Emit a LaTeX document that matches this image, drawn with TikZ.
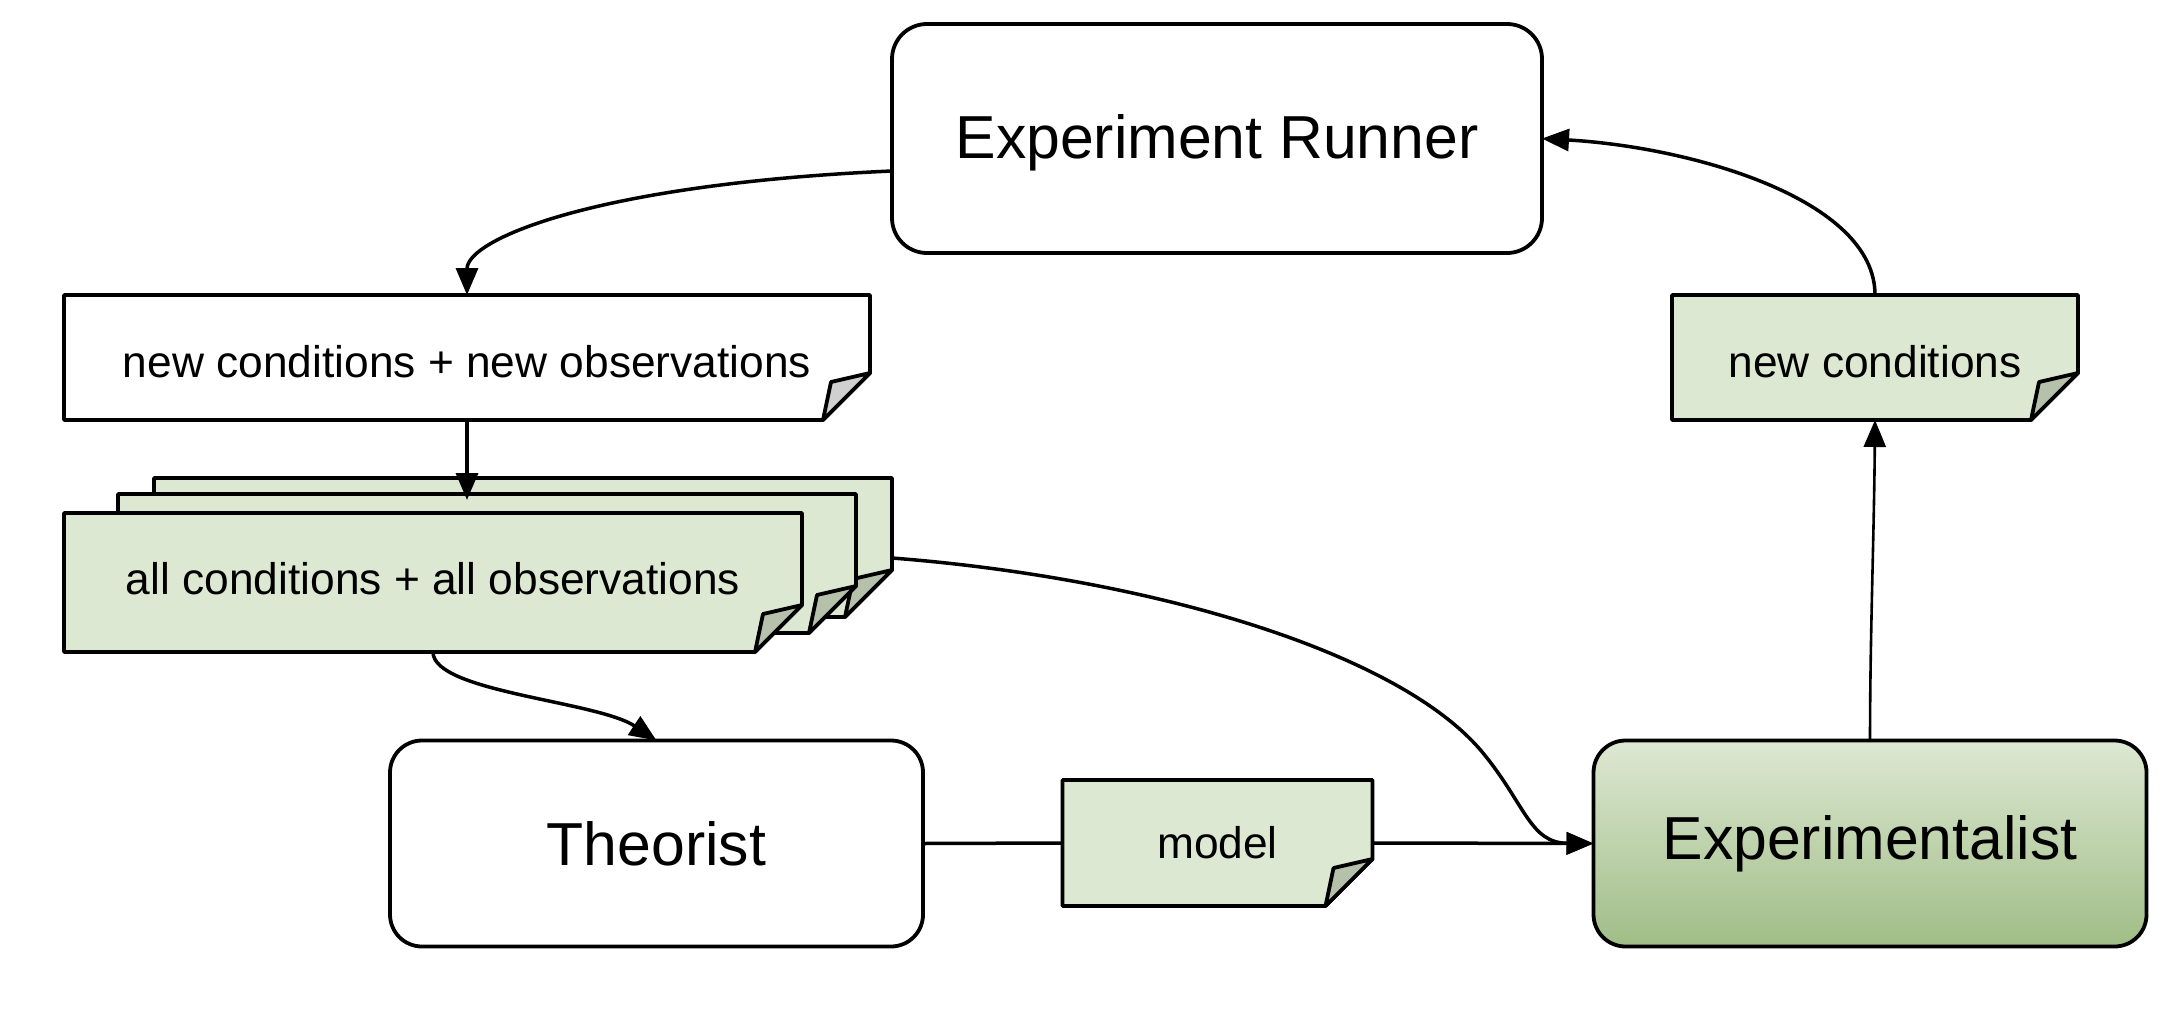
\documentclass[tikz,border=0pt]{standalone}
\usepackage{fontspec}
\setmainfont{Liberation Sans}
\usetikzlibrary{arrows.meta,calc}
\pgfdeclarelayer{background}
\pgfdeclarelayer{canvas}
\pgfsetlayers{canvas,background,main}
\definecolor{docgreen}{HTML}{DDE8D3}
\definecolor{foldgreen}{HTML}{B6C1AB}
\definecolor{foldgray}{HTML}{D0D0D0}
\definecolor{gradtop}{HTML}{DDE8D3}
\definecolor{gradbot}{HTML}{A0BD86}
\newcommand\docpath[3]{%
  \begin{pgfonlayer}{background}
  \draw[docline, fill=#2] (#1.north west) -- (#1.north east) -- ($(#1.south east)+(0,-47)$) -- ($(#1.south east)+(-47,0)$) -- (#1.south west) -- cycle;
  \draw[docline, fill=#3] ($(#1.south east)+(-47,0)$) -- ($(#1.south east)+(-39,-38)$) -- ($(#1.south east)+(0,-47)$) -- cycle;
  \end{pgfonlayer}}
\newcommand\shifttext[2]{\raisebox{#1}[\height][\depth]{#2}}
\begin{document}
\begin{tikzpicture}[x=1pt,y=-1pt,
  box/.style={draw, line width=3.8pt, rounded corners=32pt, inner sep=0pt, outer sep=0pt, font=\fontsize{60.7}{70}\selectfont},
  docnode/.style={inner sep=0pt, outer sep=0pt, font=\fontsize{44.3}{52}\selectfont},
  docline/.style={line width=3.8pt, line join=round},
  link/.style={line width=3.5pt},
  conn/.style={line width=3.5pt, -{Triangle[length=27pt,width=22pt]}},
]
\begin{pgfonlayer}{canvas}
\fill[white] (0,0) rectangle (2183,1033);
\end{pgfonlayer}
\useasboundingbox (0,0) rectangle (2183,1033);

\node[box, rounded corners=35pt, minimum width=650pt, minimum height=229pt] (er) at (1217,138.5) {\shifttext{-4pt}{Experiment Runner}};
\node[box, minimum width=533pt, minimum height=206pt] (th) at (656.5,843.5) {Theorist};
\node[box, top color=gradtop, bottom color=gradbot, minimum width=553pt, minimum height=206pt] (ex) at (1870,843.5) {Experimentalist};

\node[docnode, minimum width=806pt, minimum height=125pt] (nco) at (467,357.5) {\shifttext{-4pt}{new conditions + new observations}};
\node[docnode, minimum width=738pt, minimum height=139pt] (all3) at (523,547.5) {};
\node[docnode, minimum width=738pt, minimum height=139pt] (all2) at (487,563.5) {};
\node[docnode, minimum width=738pt, minimum height=139pt] (all) at (433,582.5) {\shifttext{4pt}{all conditions + all observations}};
\node[docnode, minimum width=310pt, minimum height=126pt] (model) at (1217.5,843) {model};
\node[docnode, minimum width=406pt, minimum height=125pt] (newc) at (1875,357.5) {\shifttext{-4pt}{new conditions}};

\docpath{nco}{white}{foldgray}
\docpath{all3}{docgreen}{foldgreen}
\docpath{all2}{docgreen}{foldgreen}
\docpath{all}{docgreen}{foldgreen}
\docpath{model}{docgreen}{foldgreen}
\docpath{newc}{docgreen}{foldgreen}

\draw[conn] ($(er.west)+(0,32.5)$) .. controls (597,184) and (467,239) .. (nco.north);
\draw[conn] (nco.south) -- ($(nco.south |- all2.north)+(0,6)$);
\draw[conn] (all.south) .. controls (433,692) and (597,701) .. (th.north);
\draw[conn] ($(all3.south east)+(0,-59)$) .. controls (1150,578) and (1400,652) .. (1483,753) .. controls (1525,804) and (1530,843) .. (ex.west);
\draw[link] (th.east) -- (model.west);
\draw[conn] (model.east) -- (ex.west);
\draw[line width=2.6pt, -{Triangle[length=27pt,width=22pt]}] (ex.north) .. controls (1870,637) and (1874,537) .. (newc.south);
\draw[conn] (newc.north) .. controls (1875,199) and (1691,147) .. (er.east);
\end{tikzpicture}
\end{document}
